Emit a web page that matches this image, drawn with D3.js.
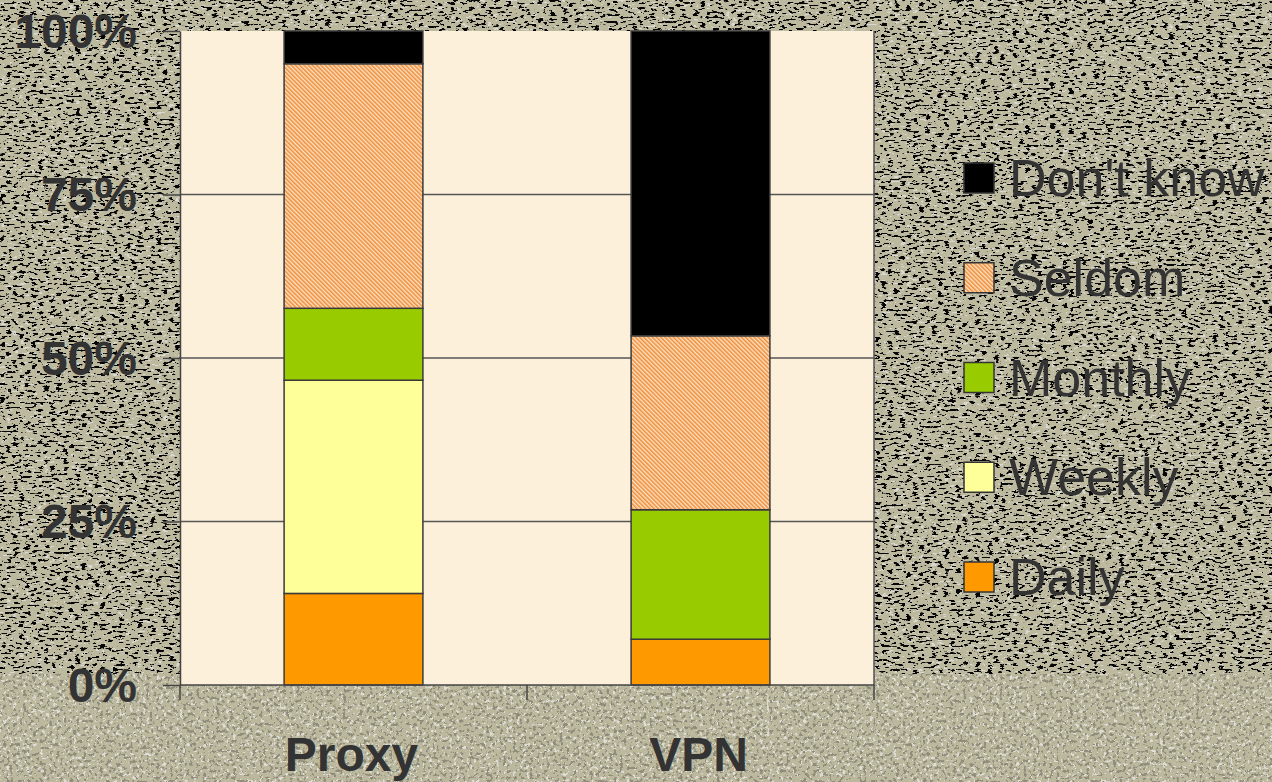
<!DOCTYPE html>
<html>
<head>
<meta charset="utf-8">
<script src="https://cdn.jsdelivr.net/npm/d3@7"></script>
<style>
  html, body { margin: 0; padding: 0; background: #bdb99f; overflow: hidden; }
  svg { display: block; }
</style>
</head>
<body>
<svg id="chart" width="1272" height="782"></svg>
<script>
// Usage frequency shares (percent of respondents) per tool
const categories = ["Proxy", "VPN"];
const seriesNames = ["Daily", "Weekly", "Monthly", "Seldom", "Don't know"];
const daily    = [14.0, 7.0];
const weekly   = [32.6, 0.0];
const monthly  = [11.0, 19.8];
const seldom   = [37.4, 26.6];
const dontKnow = [5.0, 46.6];
const yTicks = [0, 25, 50, 75, 100];

const seriesColors = {
  "Daily": "#ff9900",
  "Weekly": "#ffff99",
  "Monthly": "#99cc00",
  "Seldom": "url(#seldomHatch)",
  "Don't know": "#000000"
};

const W = 1272, H = 782;
const plot = { left: 180, right: 874, top: 31, bottom: 685 };
const FONT = "'Liberation Sans', Arial, Helvetica, sans-serif";

const svg = d3.select("#chart");
const defs = svg.append("defs");

// Granite speckle for the upper backdrop
const fTop = defs.append("filter").attr("id", "graniteTop")
  .attr("x", 0).attr("y", 0).attr("width", 1).attr("height", 1)
  .attr("color-interpolation-filters", "sRGB");
fTop.append("feTurbulence").attr("type", "fractalNoise")
  .attr("baseFrequency", "0.16 0.42").attr("numOctaves", 3).attr("seed", 5).attr("result", "n");
fTop.append("feColorMatrix").attr("in", "n").attr("type", "matrix")
  .attr("values", "0 0 0 0 0.02  0 0 0 0 0.02  0 0 0 0 0.02  -20 0 0 0 8.3").attr("result", "dark");
fTop.append("feColorMatrix").attr("in", "n").attr("type", "matrix")
  .attr("values", "0 0 0 0 0.85  0 0 0 0 0.85  0 0 0 0 0.82  0 16 0 0 -10.2").attr("result", "light");
const mTop = fTop.append("feMerge");
mTop.append("feMergeNode").attr("in", "light");
mTop.append("feMergeNode").attr("in", "dark");

// Softer, lighter pattern for the bottom band
const fBot = defs.append("filter").attr("id", "graniteBottom")
  .attr("x", 0).attr("y", 0).attr("width", 1).attr("height", 1)
  .attr("color-interpolation-filters", "sRGB");
fBot.append("feTurbulence").attr("type", "fractalNoise")
  .attr("baseFrequency", "0.3 0.3").attr("numOctaves", 3).attr("seed", 11).attr("result", "n");
fBot.append("feColorMatrix").attr("in", "n").attr("type", "matrix")
  .attr("values", "0 0 0 0 0.56  0 0 0 0 0.55  0 0 0 0 0.48  -14 0 0 0 6.0").attr("result", "mid");
fBot.append("feColorMatrix").attr("in", "n").attr("type", "matrix")
  .attr("values", "0 0 0 0 0.87  0 0 0 0 0.87  0 0 0 0 0.84  0 14 0 0 -8.4").attr("result", "light");
const mBot = fBot.append("feMerge");
mBot.append("feMergeNode").attr("in", "light");
mBot.append("feMergeNode").attr("in", "mid");

// Diagonal hatch for "Seldom"
const hatch = defs.append("pattern").attr("id", "seldomHatch")
  .attr("patternUnits", "userSpaceOnUse").attr("width", 3).attr("height", 3)
  .attr("patternTransform", "rotate(-45)");
hatch.append("rect").attr("width", 3).attr("height", 3).attr("fill", "#fde3c6");
hatch.append("rect").attr("width", 1.6).attr("height", 3).attr("fill", "#ef8f3c");

// Backdrop
svg.append("rect").attr("width", W).attr("height", H).attr("fill", "#bdb99f");
svg.append("rect").attr("x", 0).attr("y", 0).attr("width", W).attr("height", 674)
  .attr("filter", "url(#graniteTop)");
svg.append("rect").attr("x", 0).attr("y", 674).attr("width", W).attr("height", H - 674)
  .attr("fill", "#bcb89d");
svg.append("rect").attr("x", 0).attr("y", 674).attr("width", W).attr("height", H - 674)
  .attr("filter", "url(#graniteBottom)");

// Scales
const x = d3.scaleBand().domain(categories).range([plot.left, plot.right]).padding(0);
const y = d3.scaleLinear().domain([0, 100]).range([plot.bottom, plot.top]);
const barW = x.bandwidth() * 0.4;

// Plot area
svg.append("rect")
  .attr("x", plot.left).attr("y", plot.top)
  .attr("width", plot.right - plot.left).attr("height", plot.bottom - plot.top)
  .attr("fill", "#fdf0da");

// Gridlines
svg.append("g").selectAll("line")
  .data(yTicks.filter(t => t > 0 && t < 100))
  .join("line")
  .attr("x1", plot.left).attr("x2", plot.right)
  .attr("y1", d => y(d)).attr("y2", d => y(d))
  .attr("stroke", "#555").attr("stroke-width", 1.5);

// Right frame edge
svg.append("line")
  .attr("x1", plot.right).attr("x2", plot.right)
  .attr("y1", plot.top).attr("y2", plot.bottom)
  .attr("stroke", "#555").attr("stroke-width", 1.5);

// Stacked bars
const table = categories.map((c, i) => ({
  category: c,
  "Daily": daily[i],
  "Weekly": weekly[i],
  "Monthly": monthly[i],
  "Seldom": seldom[i],
  "Don't know": dontKnow[i]
}));
const stacked = d3.stack().keys(seriesNames)(table);

svg.append("g").selectAll("g")
  .data(stacked)
  .join("g")
  .attr("fill", d => seriesColors[d.key])
  .selectAll("rect")
  .data(d => d.filter(s => s[1] - s[0] > 0))
  .join("rect")
  .attr("x", d => x(d.data.category) + (x.bandwidth() - barW) / 2)
  .attr("y", d => y(d[1]))
  .attr("width", barW)
  .attr("height", d => y(d[0]) - y(d[1]))
  .attr("stroke", "#3a3a3a")
  .attr("stroke-width", 1.5);

// Y axis
const yAxis = svg.append("g")
  .attr("transform", `translate(${plot.left},0)`)
  .call(d3.axisLeft(y).tickValues(yTicks).tickSize(17).tickSizeOuter(0)
    .tickPadding(26).tickFormat(d => d + "%"));
yAxis.select(".domain").attr("stroke", "#444").attr("stroke-width", 1.5);
yAxis.selectAll(".tick line").attr("stroke", "#444").attr("stroke-width", 1.5);
yAxis.selectAll(".tick text")
  .attr("fill", "#333")
  .attr("font-family", FONT).attr("font-size", 48).attr("font-weight", "bold")
  .attr("dy", "0.34em");

// X axis line and category boundary ticks
svg.append("line")
  .attr("x1", plot.left).attr("x2", plot.right)
  .attr("y1", plot.bottom).attr("y2", plot.bottom)
  .attr("stroke", "#444").attr("stroke-width", 1.5);
const bounds = [x(categories[0])].concat(categories.map(c => x(c) + x.bandwidth()));
svg.append("g").selectAll("line")
  .data(bounds)
  .join("line")
  .attr("x1", d => d).attr("x2", d => d)
  .attr("y1", plot.bottom).attr("y2", plot.bottom + 15)
  .attr("stroke", "#444").attr("stroke-width", 1.5);

svg.append("g").selectAll("text")
  .data(categories)
  .join("text")
  .attr("x", d => x(d) + x.bandwidth() / 2 - 2)
  .attr("y", 771)
  .attr("text-anchor", "middle")
  .attr("fill", "#333")
  .attr("font-family", FONT).attr("font-size", 48).attr("font-weight", "bold")
  .text(d => d);

// Legend
const legendOrder = seriesNames.slice().reverse();
const legend = svg.append("g").selectAll("g")
  .data(legendOrder)
  .join("g")
  .attr("transform", (d, i) => `translate(964,${163 + i * 99.75})`);
legend.append("rect")
  .attr("width", 30).attr("height", 30)
  .attr("fill", d => seriesColors[d])
  .attr("stroke", "#333").attr("stroke-width", 1.5);
legend.append("text")
  .attr("x", 45).attr("y", 33)
  .attr("fill", "#333")
  .attr("font-family", FONT).attr("font-size", 52)
  .text(d => d);
</script>
</body>
</html>
